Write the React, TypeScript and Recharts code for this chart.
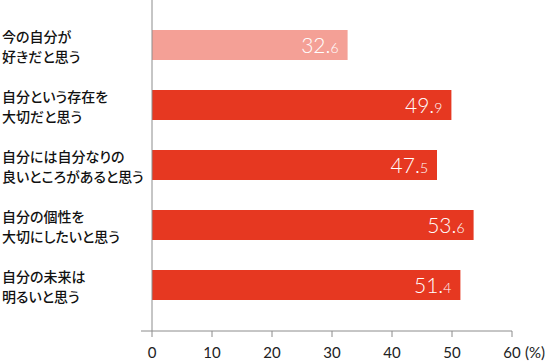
import React from 'react';
import {
  BarChart,
  Bar,
  XAxis,
  YAxis,
  Cell,
  LabelList,
  ReferenceLine,
} from 'recharts';

const CATEGORIES = [
  '今の自分が\n好きだと思う',
  '自分という存在を\n大切だと思う',
  '自分には自分なりの\n良いところがあると思う',
  '自分の個性を\n大切にしたいと思う',
  '自分の未来は\n明るいと思う',
];

const VALUES = [32.6, 49.9, 47.5, 53.6, 51.4];

const X_TICKS = [0, 10, 20, 30, 40, 50, 60];

const BAR_COLORS = ['#f4a096', '#e63821', '#e63821', '#e63821', '#e63821'];

const data = CATEGORIES.map((name, i) => ({ name, value: VALUES[i] }));

const AXIS_GREY = '#8c8c8c';
const NUM_FONT = 'Lato, "Open Sans", sans-serif';

function CategoryTick(props: any) {
  const { y, payload } = props;
  const lines = String(payload.value).split('\n');
  return (
    <text
      x={2}
      y={y}
      fill="#111"
      fontSize={14}
      fontWeight={500}
      fontFamily='"Noto Sans CJK JP", sans-serif'
      textAnchor="start"
      style={{ fontFeatureSettings: '"palt"' }}
    >
      {lines.map((line, i) => (
        <tspan key={i} x={2} dy={i === 0 ? -3.5 : 20.5}>
          {line}
        </tspan>
      ))}
    </text>
  );
}

function ValueTick(props: any) {
  const { x, y, payload } = props;
  const v = payload.value;
  return (
    <g>
      <text
        x={x}
        y={y + 19}
        fill="#222"
        fontSize={15}
        fontFamily={NUM_FONT}
        textAnchor="middle"
      >
        {v}
      </text>
      {v === 60 && (
        <text
          x={x + 13}
          y={y + 19}
          fill="#222"
          fontSize={15}
          fontFamily={NUM_FONT}
          textAnchor="start"
        >
          (%)
        </text>
      )}
    </g>
  );
}

function ValueLabel(props: any) {
  const { x, y, width, height, value } = props;
  const [whole, frac] = String(value).split('.');
  return (
    <text
      x={x + width - 9}
      y={y + height / 2 + 8}
      fill="#fff"
      fontFamily={NUM_FONT}
      fontWeight={300}
      textAnchor="end"
    >
      <tspan fontSize={21}>{whole}.</tspan>
      <tspan fontSize={14}>{frac}</tspan>
    </text>
  );
}

export default function App() {
  return (
    <div style={{ position: 'absolute', left: 0, top: 0 }}>
      <BarChart
        width={548}
        height={361}
        data={data}
        layout="vertical"
        margin={{ top: 0, right: 36, bottom: 0, left: 0 }}
        barSize={30}
      >
        <XAxis
          type="number"
          domain={[-11 / 6, 60]}
          ticks={X_TICKS}
          height={30}
          stroke={AXIS_GREY}
          tickSize={6}
          tickLine={{ stroke: AXIS_GREY }}
          tick={<ValueTick />}
        />
        <YAxis
          type="category"
          dataKey="name"
          width={141}
          axisLine={false}
          tickLine={false}
          padding={{ top: 15, bottom: 16 }}
          tick={<CategoryTick />}
          interval={0}
        />
        <ReferenceLine x={0} stroke={AXIS_GREY} />
        <Bar dataKey="value" isAnimationActive={false}>
          {data.map((_, i) => (
            <Cell key={`cell-${i}`} fill={BAR_COLORS[i]} />
          ))}
          <LabelList dataKey="value" content={<ValueLabel />} />
        </Bar>
      </BarChart>
    </div>
  );
}
